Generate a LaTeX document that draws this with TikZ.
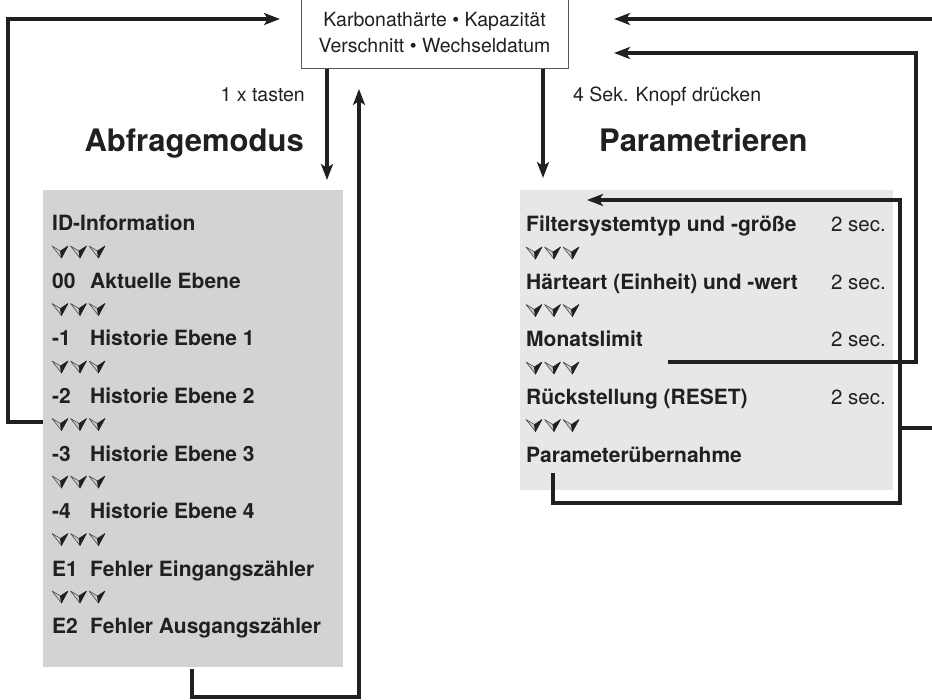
\documentclass[tikz,border=0pt]{standalone}
\usepackage{fontspec}
\setmainfont{TeX Gyre Heros}
\usetikzlibrary{arrows.meta}
\definecolor{ink}{HTML}{231F20}
\definecolor{panelL}{HTML}{D1D3D4}
\definecolor{panelR}{HTML}{E6E7E8}
\definecolor{glyphL}{HTML}{C8C9CB}
\begin{document}
\begin{tikzpicture}[x=1pt,y=-1pt,
  conn/.style={draw=ink, line width=3.2pt, line join=miter,
    -{Stealth[length=16pt,width=12pt,inset=4pt]}},
  small/.style={inner sep=0pt, text=ink, font=\fontsize{19.5}{23}\selectfont},
  body/.style={inner sep=0pt, text=ink, font=\fontsize{21}{25}\selectfont\bfseries, anchor=base west},
  title/.style={inner sep=0pt, text=ink, font=\fontsize{31}{36}\selectfont\bfseries},
  panel/.style={inner sep=0pt, anchor=north west, draw=none},
  tri/.pic={
    \foreach \dx in {0,18.5,37}{
      \filldraw[fill=glyphL, draw=ink!80, line width=0.6pt, line join=round]
        (\dx,0) -- (\dx+8.5,5) -- (\dx+9.5,12) -- cycle;
      \filldraw[fill=ink, draw=ink, line width=0.6pt, line join=round]
        (\dx+8.5,5) -- (\dx+16,0) -- (\dx+9.5,12) -- cycle;
    }
  }
]
\useasboundingbox (0,0) rectangle (932,700);
\clip (0,0) rectangle (932,700);

% top box
\node[draw=ink!75, line width=1pt, minimum width=267pt, minimum height=72pt,
      inner sep=0pt, anchor=north west, fill=white] (top) at (301,-4) {};
\node[small, anchor=base] (t1) at (434.5,27) {Karbonathärte • Kapazität};
\node[small, anchor=base] (t2) at (434.5,53) {Verschnitt • Wechseldatum};

% labels above panels
\node[small, anchor=base east] (tasten) at (305,102) {1 x tasten};
\node[small, anchor=base west] (knopf) at (573,102) {4 Sek. Knopf drücken};
\node[title, anchor=base east] (abf) at (304,152) {Abfragemodus};
\node[title, anchor=base west] (par) at (599,152) {Parametrieren};

% panels
\node[panel, fill=panelL, minimum width=300pt, minimum height=477pt] (lp) at (43,190) {};
\node[panel, fill=panelR, minimum width=373pt, minimum height=300pt] (rp) at (520,190) {};

% left list
\node[body] (l0) at (52,231) {ID-Information};
\pic at (52,246) {tri};
\node[body] (n1) at (52,288.5) {00};
\node[body] (l1) at (90,288.5) {Aktuelle Ebene};
\pic at (52,303.5) {tri};
\node[body] (n2) at (52,346) {-1};
\node[body] (l2) at (90,346) {Historie Ebene 1};
\pic at (52,361) {tri};
\node[body] (n3) at (52,403.5) {-2};
\node[body] (l3) at (90,403.5) {Historie Ebene 2};
\pic at (52,418.5) {tri};
\node[body] (n4) at (52,461) {-3};
\node[body] (l4) at (90,461) {Historie Ebene 3};
\pic at (52,476) {tri};
\node[body] (n5) at (52,518.5) {-4};
\node[body] (l5) at (90,518.5) {Historie Ebene 4};
\pic at (52,533.5) {tri};
\node[body] (n6) at (52,576) {E1};
\node[body] (l6) at (90,576) {Fehler Eingangszähler};
\pic at (52,591) {tri};
\node[body] (n7) at (52,633.5) {E2};
\node[body] (l7) at (90,633.5) {Fehler Ausgangszähler};

% right list
\node[body] (r1) at (526,232) {Filtersystemtyp und -größe};
\node[small, anchor=base east, font=\fontsize{20.5}{24}\selectfont] (s1) at (886,232) {2 sec.};
\pic at (526,247) {tri};
\node[body] (r2) at (526,289.5) {Härteart (Einheit) und -wert};
\node[small, anchor=base east, font=\fontsize{20.5}{24}\selectfont] (s2) at (886,289.5) {2 sec.};
\pic at (526,304.5) {tri};
\node[body] (r3) at (526,347) {Monatslimit};
\node[small, anchor=base east, font=\fontsize{20.5}{24}\selectfont] (s3) at (886,347) {2 sec.};
\pic at (526,362) {tri};
\node[body] (r4) at (526,404.5) {Rückstellung (RESET)};
\node[small, anchor=base east, font=\fontsize{20.5}{24}\selectfont] (s4) at (886,404.5) {2 sec.};
\pic at (526,419.5) {tri};
\node[body] (r5) at (526,462) {Parameterübernahme};

% connector coordinates
\coordinate (inL) at (280,19);
\coordinate (inR1) at (614,19);
\coordinate (inR2) at (614,53);
\coordinate (inF) at (587,200);
\coordinate (mOut) at (668,362);
\coordinate (pOut) at (553,473);
\coordinate (eOut) at (192,669);

% left loop: panel -> top box
\draw[conn] (lp.west |- 0,422) -- (8,422) -- (8,19) -- (inL);
% down arrows into panels
\draw[conn, shorten >=10pt] (top.south -| 327,0) -- (lp.north -| 327,0);
\draw[conn, shorten >=12pt] (top.south -| 543,0) -- (rp.north -| 543,0);
% bottom loop back to top
\draw[conn, shorten >=20pt] (eOut) -- (192,697) -- (359,697) -- (top.south -| 359,0);
% Monatslimit loop
\draw[conn] (mOut) -- (916,362) -- (916,53) -- (inR2);
% Parameteruebernahme loop
\draw[conn] (pOut) -- (553,503) -- (900,503) -- (900,200) -- (inF);
\draw[conn] (900,428) -- (945,428) -- (945,19) -- (inR1);
\end{tikzpicture}
\end{document}
